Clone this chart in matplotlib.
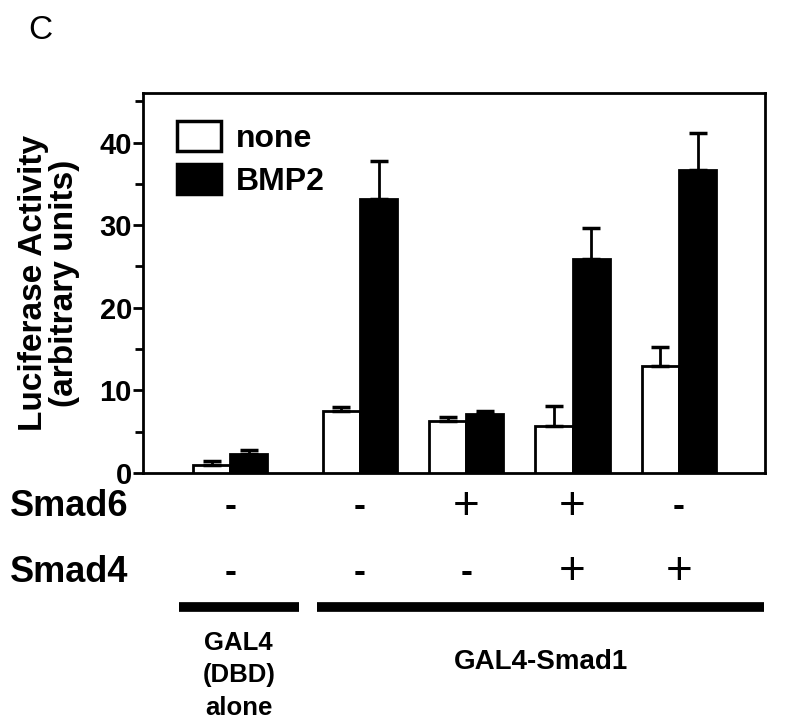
import numpy as np
import matplotlib
matplotlib.use("Agg")
import matplotlib.pyplot as plt
import matplotlib.patches as mpatches
from matplotlib.transforms import blended_transform_factory

plt.rcParams["font.family"] = ["Liberation Sans", "DejaVu Sans"]

# ── Data ──────────────────────────────────────────────
positions = [0.0, 1.22, 2.22, 3.22, 4.22]
none_vals = [1.0, 7.5, 6.3, 5.7, 12.9]
none_err = [0.5, 0.5, 0.5, 2.45, 2.3]
bmp2_vals = [2.3, 33.2, 7.1, 25.9, 36.7]
bmp2_err = [0.45, 4.6, 0.45, 3.8, 4.5]
smad6 = ["-", "-", "+", "+", "-"]
smad4 = ["-", "-", "-", "+", "+"]
y_ticks = [0, 10, 20, 30, 40]
y_minor = [5, 15, 25, 35, 45]

W = 0.35
BLACK = "#000000"

fig = plt.figure(figsize=(8.0, 7.27), dpi=100, facecolor="white")
ax = fig.add_axes([0.1788, 0.3494, 0.7775, 0.5227])

x = np.array(positions)
ax.bar(x - W / 2, none_vals, W, color="white", edgecolor=BLACK, linewidth=2, zorder=3)
ax.bar(x + W / 2, bmp2_vals, W, color=BLACK, edgecolor=BLACK, linewidth=2, zorder=3)
ax.errorbar(x - W / 2, none_vals, yerr=[np.zeros(5), none_err], fmt="none",
            ecolor=BLACK, elinewidth=2, capsize=6.5, capthick=2.5, zorder=4)
ax.errorbar(x + W / 2, bmp2_vals, yerr=[np.zeros(5), bmp2_err], fmt="none",
            ecolor=BLACK, elinewidth=2, capsize=6.5, capthick=2.5, zorder=4)

ax.set_xlim(-0.82, 5.03)
ax.set_ylim(0, 46)
ax.set_xticks([])
ax.set_yticks(y_ticks)
ax.set_yticks(y_minor, minor=True)
ax.set_yticklabels([str(t) for t in y_ticks], fontsize=21, fontweight="bold")
ax.tick_params(axis="y", which="major", length=7, width=2, direction="out", pad=1)
ax.tick_params(axis="y", which="minor", length=6, width=2, direction="out")
for sp in ax.spines.values():
    sp.set_linewidth(2)

ax.set_ylabel("Luciferase Activity\n(arbitrary units)", fontsize=24,
              fontweight="bold", linespacing=1.0, labelpad=14)

# legend
handles = [mpatches.Patch(facecolor="white", edgecolor=BLACK, linewidth=2.5, label="none"),
           mpatches.Patch(facecolor=BLACK, edgecolor=BLACK, linewidth=2.5, label="BMP2")]
ax.legend(handles=handles, loc="upper left", frameon=False,
          handlelength=1.4, handleheight=1.05, handletextpad=0.45, labelspacing=0.32,
          borderpad=0, borderaxespad=0, bbox_to_anchor=(0.054, 0.925),
          prop={"weight": "bold", "size": 23})

# rows of + / - below the axes
trans = blended_transform_factory(ax.transData, fig.transFigure)
row6, row4 = 0.303, 0.213
fig.text(0.012, row6, "Smad6", fontsize=26, fontweight="bold", va="center")
fig.text(0.012, row4, "Smad4", fontsize=26, fontweight="bold", va="center")
for xi, s6, s4 in zip(positions, smad6, smad4):
    for sgn, yy in ((s6, row6), (s4, row4)):
        if sgn == "+":
            ax.text(xi, yy, "+", transform=trans, fontsize=33, ha="center",
                    va="center", fontweight="normal")
        else:
            ax.text(xi, yy, "-", transform=trans, fontsize=26, ha="center",
                    va="center", fontweight="bold")

# group lines
ax.plot([positions[0] - 0.48, positions[0] + 0.65], [0.165, 0.165], transform=trans,
        color=BLACK, lw=7, clip_on=False, solid_capstyle="butt")
ax.plot([positions[1] - 0.40, positions[-1] + 0.80], [0.165, 0.165], transform=trans,
        color=BLACK, lw=7, clip_on=False, solid_capstyle="butt")

ax.text(positions[0] + 0.08, 0.071, "GAL4\n(DBD)\nalone", transform=trans, fontsize=18.5,
        fontweight="bold", ha="center", va="center", linespacing=1.45)
ax.text((positions[1] + positions[-1]) / 2 + 0.2, 0.089, "GAL4-Smad1", transform=trans,
        fontsize=20, fontweight="bold", ha="center", va="center")

fig.text(0.05, 0.958, "C", fontsize=24, ha="center", va="center")

fig.savefig("out.png", dpi=100, facecolor="white")
